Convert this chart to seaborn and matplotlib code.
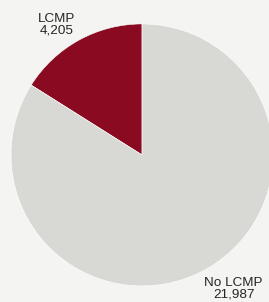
import matplotlib
matplotlib.use("Agg")
import matplotlib.pyplot as plt
import seaborn as sns

# data
labels = ["LCMP", "No LCMP"]
counts = [4205, 21987]
colors = ["#8a0a22", "#d8d8d5"]

sns.set_theme(style="white")
plt.rcParams["font.family"] = ["Liberation Sans", "DejaVu Sans"]

bg = "#f4f4f2"
fig = plt.figure(figsize=(2.69, 3.02), dpi=100, facecolor=bg)
ax = fig.add_axes([0.041, 0.053, 0.974, 0.868])
ax.set_facecolor(bg)

wedges, _ = ax.pie(
    counts,
    colors=colors,
    startangle=90,
    counterclock=True,
    radius=1,
    wedgeprops=dict(edgecolor="white", linewidth=0.4),
)
ax.set_xlim(-1, 1)
ax.set_ylim(-1, 1)
ax.axis("off")

# labels
pos = [(-0.65, 0.995), (0.70, -1.02)]
for (x, y), lab, n in zip(pos, labels, counts):
    ax.text(x, y, f"{lab}\n{n:,}", ha="center", va="center",
            fontsize=9.7, color="#262626", linespacing=1.0, clip_on=False)

fig.savefig("out.png", dpi=100, facecolor=bg)
